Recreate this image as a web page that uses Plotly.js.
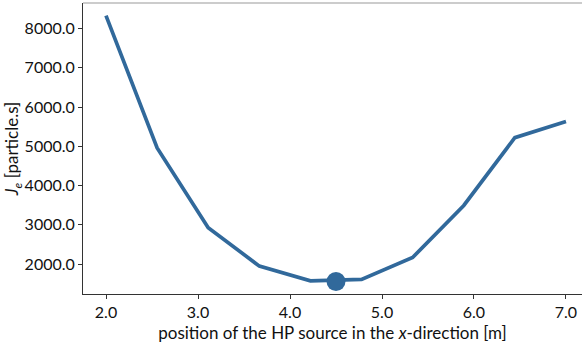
<!DOCTYPE html>
<html>
<head>
<meta charset="utf-8">
<script src="https://cdn.plot.ly/plotly-3.0.1.min.js"></script>
<style>html,body{margin:0;padding:0;background:#fff;}#chart{width:582px;height:343px;}</style>
</head>
<body>
<div id="chart"></div>
<script>
const positions = [2.0, 2.556, 3.111, 3.667, 4.222, 4.778, 5.333, 5.889, 6.444, 7.0];
const jeValues = [8330, 4960, 2930, 1950, 1575, 1610, 2170, 3495, 5220, 5630];
const optimumX = [4.5];
const optimumY = [1560];
const yTicks = [2000, 3000, 4000, 5000, 6000, 7000, 8000];
const xTicks = [2, 3, 4, 5, 6, 7];

const color = '#31699b';
const fontFam = 'Lato, "DejaVu Sans", sans-serif';

const data = [
  {x: positions, y: jeValues, type: 'scatter', mode: 'lines',
   line: {color: color, width: 3.7}, hoverinfo: 'skip'},
  {x: optimumX, y: optimumY, type: 'scatter', mode: 'markers',
   marker: {color: color, size: 19}, hoverinfo: 'skip'}
];

const layout = {
  width: 582, height: 343,
  margin: {l: 83, r: 0, t: 3, b: 49},
  showlegend: false,
  paper_bgcolor: '#fff', plot_bgcolor: '#fff',
  font: {family: fontFam, size: 16, color: '#111'},
  xaxis: {
    range: [1.75, 7.174], tickvals: xTicks, tickformat: '.1f',
    showgrid: false, zeroline: false,
    showline: true, linecolor: '#333', linewidth: 1,
    ticks: 'outside', ticklen: 4, tickcolor: '#333',
    title: {text: 'position of the HP source in the <i>x</i>-direction [m]', font: {size: 17}, standoff: 6}
  },
  yaxis: {
    range: [1240, 8650], tickvals: yTicks, tickformat: '.1f',
    showgrid: false, zeroline: false,
    showline: true, linecolor: '#333', linewidth: 1,
    ticks: 'outside', ticklen: 4, tickcolor: '#333',
    title: {text: '<i>J<sub>e</sub></i> [particle.s]', font: {size: 17}, standoff: 1}
  },
  shapes: [
    {type: 'line', xref: 'paper', yref: 'paper', x0: 0, x1: 1, y0: 1, y1: 1,
     line: {color: '#bbbbbb', width: 1.5}}
  ]
};

Plotly.newPlot('chart', data, layout, {displayModeBar: false, staticPlot: true});
</script>
</body>
</html>
